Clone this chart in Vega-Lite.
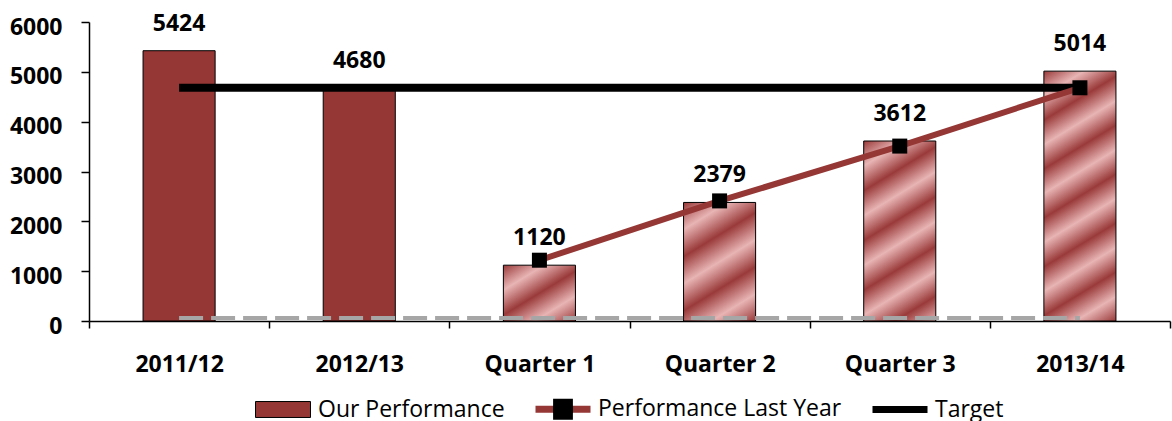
{
  "$schema": "https://vega.github.io/schema/vega-lite/v6.json",
  "width": 1081,
  "height": 299,
  "autosize": "none",
  "padding": {"left": 89, "top": 22, "right": 2, "bottom": 100},
  "background": "white",
  "config": {
    "font": "Open Sans",
    "view": {"stroke": null},
    "axis": {"grid": false, "domainColor": "#000", "tickColor": "#000", "labelColor": "#000", "labelFont": "Open Sans", "labelFontWeight": "bold", "labelFontSize": 23, "title": null},
    "legend": {
      "layout": {"bottom": {"anchor": "middle"}}
    }
  },
  "data": {
    "values": [
      {"cat": "2011/12", "perf": 5424, "last": null, "target": 4680, "base": 60},
      {"cat": "2012/13", "perf": 4680, "last": null, "target": 4680, "base": 60},
      {"cat": "Quarter 1", "perf": 1120, "last": 1220, "target": 4680, "base": 60},
      {"cat": "Quarter 2", "perf": 2379, "last": 2410, "target": 4680, "base": 60},
      {"cat": "Quarter 3", "perf": 3612, "last": 3510, "target": 4680, "base": 60},
      {"cat": "2013/14", "perf": 5014, "last": 4680, "target": 4680, "base": 60}
    ]
  },
  "encoding": {
    "x": {
      "field": "cat", "type": "nominal", "sort": null,
      "scale": {"domain": ["2011/12", "2012/13", "Quarter 1", "Quarter 2", "Quarter 3", "2013/14"], "paddingInner": 0, "paddingOuter": 0},
      "axis": {"labelAngle": 0, "tickBand": "extent", "tickSize": 7, "domainWidth": 1.5, "tickWidth": 1.5, "labelPadding": 25}
    }
  },
  "layer": [
    {
      "transform": [{"filter": "datum.cat === '2011/12' || datum.cat === '2012/13'"}],
      "mark": {"type": "bar", "width": {"band": 0.4}, "fill": "#953735", "stroke": "#000", "strokeWidth": 1},
      "encoding": {
        "y": {"field": "perf", "type": "quantitative", "scale": {"domain": [0, 6000], "nice": false},
          "axis": {"values": [0, 1000, 2000, 3000, 4000, 5000, 6000], "format": "d", "tickSize": 8, "labelPadding": 19, "labelOffset": 5, "domainWidth": 1.5, "tickWidth": 1.5}}
      }
    },
    {
      "transform": [{"filter": "datum.cat === 'Quarter 1'"}],
      "mark": {"type": "bar", "width": {"band": 0.4}, "stroke": "#000", "strokeWidth": 1,
        "fill": {"gradient": "linear", "x1": 0, "y1": 0, "x2": 0.868, "y2": 1.104, "stops": [
          {"offset": 0, "color": "#9a3a3a"}, {"offset": 0.25, "color": "#e8b4b4"}, {"offset": 0.5, "color": "#9a3a3a"}, {"offset": 0.75, "color": "#e8b4b4"}, {"offset": 1, "color": "#9a3a3a"}]}},
      "encoding": {"y": {"field": "perf", "type": "quantitative"}}
    },
    {
      "transform": [{"filter": "datum.cat === 'Quarter 2'"}],
      "mark": {"type": "bar", "width": {"band": 0.4}, "stroke": "#000", "strokeWidth": 1,
        "fill": {"gradient": "linear", "x1": 0, "y1": 0, "x2": 0.449, "y2": 1.205, "stops": [
          {"offset": 0, "color": "#9a3a3a"}, {"offset": 0.1667, "color": "#e8b4b4"}, {"offset": 0.3333, "color": "#9a3a3a"}, {"offset": 0.5, "color": "#e8b4b4"}, {"offset": 0.6667, "color": "#9a3a3a"}, {"offset": 0.8333, "color": "#e8b4b4"}, {"offset": 1, "color": "#9a3a3a"}]}},
      "encoding": {"y": {"field": "perf", "type": "quantitative"}}
    },
    {
      "transform": [{"filter": "datum.cat === 'Quarter 3'"}],
      "mark": {"type": "bar", "width": {"band": 0.4}, "stroke": "#000", "strokeWidth": 1,
        "fill": {"gradient": "linear", "x1": 0, "y1": 0, "x2": 0.287, "y2": 1.174, "stops": [
          {"offset": 0, "color": "#9a3a3a"}, {"offset": 0.1111, "color": "#e8b4b4"}, {"offset": 0.2222, "color": "#9a3a3a"}, {"offset": 0.3333, "color": "#e8b4b4"}, {"offset": 0.4444, "color": "#9a3a3a"}, {"offset": 0.5556, "color": "#e8b4b4"}, {"offset": 0.6667, "color": "#9a3a3a"}, {"offset": 0.7778, "color": "#e8b4b4"}, {"offset": 0.8889, "color": "#9a3a3a"}, {"offset": 1, "color": "#e8b4b4"}]}},
      "encoding": {"y": {"field": "perf", "type": "quantitative"}}
    },
    {
      "transform": [{"filter": "datum.cat === '2013/14'"}],
      "mark": {"type": "bar", "width": {"band": 0.4}, "stroke": "#000", "strokeWidth": 1,
        "fill": {"gradient": "linear", "x1": 0, "y1": 0, "x2": 0.2, "y2": 1.14, "stops": [
          {"offset": 0, "color": "#9a3a3a"}, {"offset": 0.0833, "color": "#e8b4b4"}, {"offset": 0.1667, "color": "#9a3a3a"}, {"offset": 0.25, "color": "#e8b4b4"}, {"offset": 0.3333, "color": "#9a3a3a"}, {"offset": 0.4167, "color": "#e8b4b4"}, {"offset": 0.5, "color": "#9a3a3a"}, {"offset": 0.5833, "color": "#e8b4b4"}, {"offset": 0.6667, "color": "#9a3a3a"}, {"offset": 0.75, "color": "#e8b4b4"}, {"offset": 0.8333, "color": "#9a3a3a"}, {"offset": 0.9167, "color": "#e8b4b4"}, {"offset": 1, "color": "#9a3a3a"}]}},
      "encoding": {"y": {"field": "perf", "type": "quantitative"}}
    },
    {
      "mark": {"type": "text", "baseline": "alphabetic", "dy": -20, "fontSize": 23, "fontWeight": "bold", "font": "Open Sans", "color": "#000"},
      "encoding": {"y": {"field": "perf", "type": "quantitative"}, "text": {"field": "perf", "type": "quantitative", "format": "d"}}
    },
    {
      "mark": {"type": "line", "color": "#a6a6a6", "strokeWidth": 4, "strokeDash": [24, 8]},
      "encoding": {"y": {"field": "base", "type": "quantitative"}}
    },
    {
      "mark": {"type": "line", "color": "#000", "strokeWidth": 8},
      "encoding": {"y": {"field": "target", "type": "quantitative"}}
    },
    {
      "mark": {"type": "line", "color": "#953735", "strokeWidth": 6},
      "encoding": {"y": {"field": "last", "type": "quantitative"}}
    },
    {
      "mark": {"type": "point", "shape": "square", "filled": true, "color": "#000", "opacity": 1, "size": 225},
      "encoding": {"y": {"field": "last", "type": "quantitative"}}
    },
    {
      "data": {"values": [{"series": "Our Performance"}, {"series": "Performance Last Year"}, {"series": "Target"}]},
      "mark": {"type": "point", "filled": true, "opacity": 0},
      "encoding": {
        "x": null,
        "color": {
          "field": "series", "type": "nominal",
          "scale": {"domain": ["Our Performance", "Performance Last Year", "Target"], "range": ["#953735", {"expr": "{gradient: 'linear', x1: 0, y1: 0, x2: 1, y2: 0, stops: [{offset: 0, color: '#953735'}, {offset: 0.32, color: '#953735'}, {offset: 0.32, color: '#000000'}, {offset: 0.68, color: '#000000'}, {offset: 0.68, color: '#953735'}, {offset: 1, color: '#953735'}]}"}, "#000000"]},
          "legend": {
            "orient": "bottom", "direction": "horizontal", "title": null,
            "labelFont": "Open Sans", "labelFontSize": 23, "labelColor": "#000", "labelLimit": 400,
            "symbolSize": 3025, "labelOffset": 7, "columnPadding": 28, "offset": 5,
            "encode": {
              "symbols": {
                "update": {
                  "shape": {"signal": "datum.value === 'Our Performance' ? 'M-1,-0.29H1V0.29H-1Z' : datum.value === 'Target' ? 'M-1,-0.127H1V0.127H-1Z' : 'M-1,-0.127H-0.36V-0.38H0.36V-0.127H1V0.127H0.36V0.38H-0.36V0.127H-1Z'"},
                  "stroke": {"signal": "datum.value === 'Our Performance' ? '#000000' : 'transparent'"},
                  "strokeWidth": {"value": 1},
                  "opacity": {"value": 1},
                  "fillOpacity": {"value": 1},
                  "strokeOpacity": {"value": 1}
                }
              }
            }
          }
        }
      }
    }
  ]
}
